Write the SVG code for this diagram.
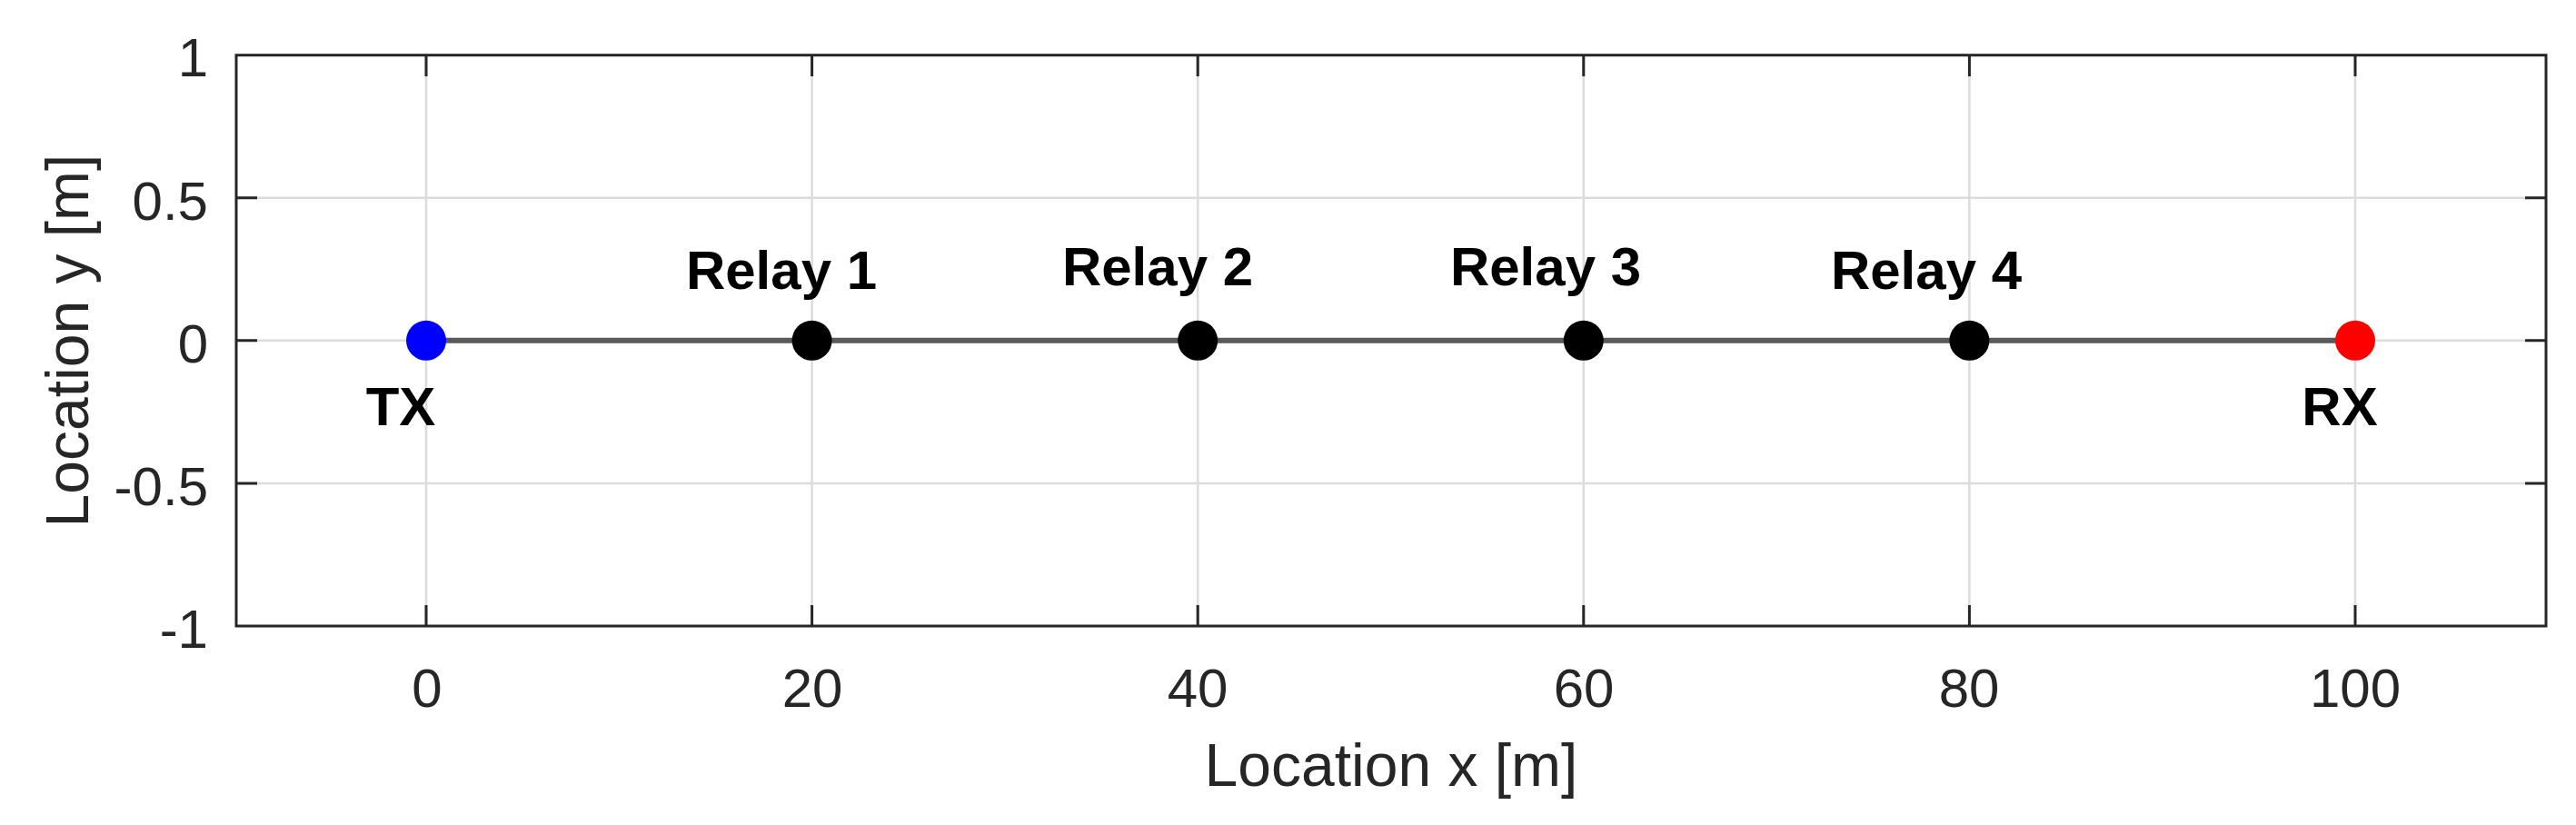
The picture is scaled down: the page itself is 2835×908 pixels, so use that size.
<svg xmlns="http://www.w3.org/2000/svg" width="2835" height="908" viewBox="0 0 2835 908">
<style>
.grid{stroke:#dcdcdc;stroke-width:2.5;fill:none}
.axis{stroke:#262626;stroke-width:3;fill:none}
.tick{stroke:#262626;stroke-width:3}
.tl{font-family:"Liberation Sans",Arial,sans-serif;font-size:60px;fill:#262626}
.al{font-family:"Liberation Sans",Arial,sans-serif;font-size:66px;fill:#262626;text-anchor:middle}
.nl{font-family:"Liberation Sans",Arial,sans-serif;font-size:60px;font-weight:bold;fill:#000;text-anchor:middle}
.link{stroke:#595959;stroke-width:6;fill:none}
</style>
<rect width="2835" height="908" fill="#fff"/>
<g id="grid">
<path class="grid" d="M469,61V689M893.6,61V689M1318.2,61V689M1742.8,61V689M2167.4,61V689M2592,61V689M260,217.8H2802M260,374.8H2802M260,531.9H2802"/>
</g>
<g id="axes">
<rect class="axis" x="260" y="60.7" width="2542" height="628.3"/>
<path class="tick" d="M469,61v23M893.6,61v23M1318.2,61v23M1742.8,61v23M2167.4,61v23M2592,61v23M469,689v-23M893.6,689v-23M1318.2,689v-23M1742.8,689v-23M2167.4,689v-23M2592,689v-23M260,217.8h23M260,374.8h23M260,531.9h23M2802,217.8h-23M2802,374.8h-23M2802,531.9h-23"/>
<g class="tl" text-anchor="end">
<text x="229" y="84">1</text>
<text x="229" y="242">0.5</text>
<text x="229" y="399">0</text>
<text x="229" y="556">-0.5</text>
<text x="229" y="713">-1</text>
</g>
<g class="tl" text-anchor="middle">
<text x="470" y="778">0</text>
<text x="894" y="778">20</text>
<text x="1318" y="778">40</text>
<text x="1743" y="778">60</text>
<text x="2167" y="778">80</text>
<text x="2592" y="778">100</text>
</g>
<text class="al" x="1531" y="865">Location x [m]</text>
<text class="al" transform="translate(97,375) rotate(-90)">Location y [m]</text>
</g>
<g id="connectors">
<path class="link" d="M469,374.8H2592"/>
</g>
<g id="TX"><circle cx="469" cy="374.8" r="22" fill="#0000ff"/><text class="nl" x="441" y="468">TX</text></g>
<g id="Relay1"><circle cx="893.6" cy="374.8" r="22" fill="#000"/><text class="nl" x="860" y="318">Relay 1</text></g>
<g id="Relay2"><circle cx="1318.2" cy="374.8" r="22" fill="#000"/><text class="nl" x="1274" y="314">Relay 2</text></g>
<g id="Relay3"><circle cx="1742.8" cy="374.8" r="22" fill="#000"/><text class="nl" x="1701" y="314">Relay 3</text></g>
<g id="Relay4"><circle cx="2167.4" cy="374.8" r="22" fill="#000"/><text class="nl" x="2120" y="318">Relay 4</text></g>
<g id="RX"><circle cx="2592" cy="374.8" r="22" fill="#ff0000"/><text class="nl" x="2575" y="468">RX</text></g>
</svg>
